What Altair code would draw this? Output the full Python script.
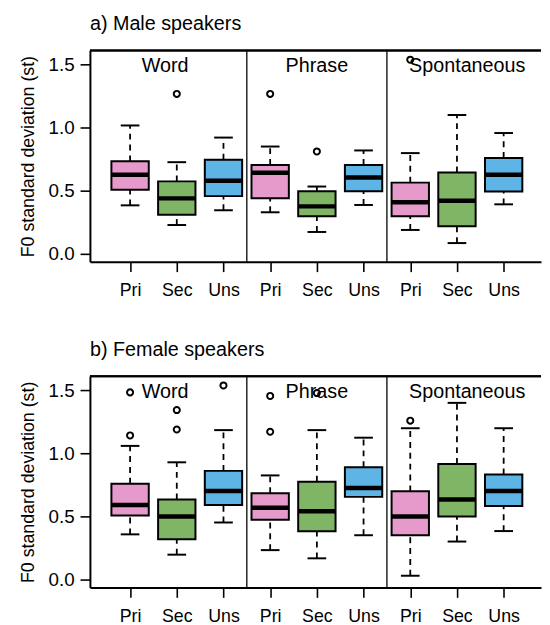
import json
import altair as alt
import pandas as pd

# ---------------- data ----------------
groups = ["Word", "Phrase", "Spontaneous"]
stress = ["Pri", "Sec", "Uns"]
colors = ["#E69ACB", "#80B566", "#5FB4E6"]

male_lo  = [0.385, 0.229, 0.346, 0.330, 0.174, 0.388, 0.190, 0.086, 0.393]
male_q1  = [0.508, 0.310, 0.458, 0.442, 0.299, 0.497, 0.299, 0.219, 0.495]
male_med = [0.627, 0.440, 0.580, 0.643, 0.377, 0.606, 0.409, 0.422, 0.627]
male_q3  = [0.734, 0.575, 0.747, 0.705, 0.497, 0.705, 0.565, 0.645, 0.760]
male_hi  = [1.018, 0.727, 0.922, 0.851, 0.534, 0.820, 0.799, 1.101, 0.958]
male_out_box = [2, 4, 5, 7]
male_out_val = [1.268, 1.268, 0.812, 1.539]

female_lo  = [0.359, 0.198, 0.453, 0.234, 0.169, 0.352, 0.031, 0.302, 0.385]
female_q1  = [0.508, 0.320, 0.591, 0.474, 0.383, 0.656, 0.352, 0.500, 0.583]
female_med = [0.591, 0.500, 0.703, 0.570, 0.542, 0.727, 0.500, 0.635, 0.703]
female_q3  = [0.760, 0.635, 0.862, 0.685, 0.776, 0.891, 0.700, 0.917, 0.833]
female_hi  = [1.060, 0.930, 1.185, 0.826, 1.185, 1.125, 1.200, 1.401, 1.200]
female_out_box = [1, 1, 2, 2, 3, 4, 4, 5, 7]
female_out_val = [1.484, 1.143, 1.344, 1.190, 1.539, 1.456, 1.172, 1.479, 1.260]

group_label_x = [1.75, 5.0, 8.22]
separators = [3.5, 6.5]
y_ticks = [0.0, 0.5, 1.0, 1.5]

# ---------------- layout ----------------
W, H = 457, 214
FONT = "Liberation Sans"
XDOM = [0.14, 9.80]
YDOM = [-0.062, 1.612]
BOXHALF = 0.4
CAPHALF = 0.2

xscale = alt.Scale(domain=XDOM, nice=False, zero=False)
yscale = alt.Scale(domain=YDOM, nice=False, zero=False)
cscale = alt.Scale(domain=stress, range=colors)

label_expr = json.dumps(stress) + "[(datum.value - 1) % 3]"

X_axis = alt.Axis(values=list(range(1, 10)), labelExpr=label_expr,
                  title=None, tickSize=10, tickWidth=1.6, tickColor="black",
                  domainColor="black", domainWidth=2, labelPadding=10,
                  labelFontSize=18, labelColor="black", labelFont=FONT,
                  grid=False)
Y_axis = alt.Axis(values=y_ticks, format=".1f", title="F0 standard deviation (st)",
                  tickSize=10, tickWidth=1.6, tickColor="black",
                  domainColor="black", domainWidth=2, labelPadding=6,
                  labelFontSize=19, labelColor="black", labelFont=FONT,
                  minExtent=44, maxExtent=44,
                  titleFontSize=18, titleFont=FONT, titleFontWeight="normal",
                  titleColor="black", titlePadding=9, grid=False)


def X(field):
    return alt.X(field, type="quantitative", scale=xscale, axis=X_axis)


def Y(field):
    return alt.Y(field, type="quantitative", scale=yscale, axis=Y_axis)


def make_panel(title, lo, q1, med, q3, hi, out_box, out_val):
    n = len(lo)
    df = pd.DataFrame({
        "pos": list(range(1, n + 1)),
        "stress": [stress[i % 3] for i in range(n)],
        "lo": lo, "q1": q1, "med": med, "q3": q3, "hi": hi,
    })
    out = pd.DataFrame({"pos": out_box, "val": out_val})
    lab = pd.DataFrame({"x": group_label_x, "text": groups})
    sep = pd.DataFrame({"x": separators})

    base = alt.Chart(df).transform_calculate(
        xl=f"datum.pos - {BOXHALF}", xr=f"datum.pos + {BOXHALF}",
        cl=f"datum.pos - {CAPHALF}", cr=f"datum.pos + {CAPHALF}",
    )

    whisk_up = base.mark_rule(color="black", strokeWidth=1.8, strokeDash=[6, 5]).encode(
        x=X("pos"), y=Y("q3"), y2="hi:Q",
    )
    whisk_dn = base.mark_rule(color="black", strokeWidth=1.8, strokeDash=[6, 5]).encode(
        x=X("pos"), y=Y("lo"), y2="q1:Q",
    )
    cap_hi = base.mark_rule(color="black", strokeWidth=2).encode(
        x=X("cl"), x2="cr:Q", y=Y("hi"),
    )
    cap_lo = base.mark_rule(color="black", strokeWidth=2).encode(
        x=X("cl"), x2="cr:Q", y=Y("lo"),
    )
    box = base.mark_rect(stroke="black", strokeWidth=2).encode(
        x=X("xl"), x2="xr:Q", y=Y("q1"), y2="q3:Q",
        fill=alt.Fill("stress:N", scale=cscale, legend=None),
    )
    median = base.mark_rule(color="black", strokeWidth=4.5).encode(
        x=X("xl"), x2="xr:Q", y=Y("med"),
    )
    outliers = alt.Chart(out).mark_point(shape="circle", size=38, filled=False,
                                         color="black", strokeWidth=2, opacity=1).encode(
        x=X("pos"), y=Y("val"),
    )
    labels = alt.Chart(lab).mark_text(font=FONT, fontSize=20, color="black",
                                      align="center", baseline="alphabetic").encode(
        x=X("x"), y=alt.value(22), text="text:N",
    )
    seps = alt.Chart(sep).mark_rule(color="black", strokeWidth=1.3).encode(
        x=X("x"), y=alt.value(0), y2=alt.value(H),
    )
    top = alt.Chart(sep).mark_rule(color="black", strokeWidth=2).encode(
        x=alt.value(0), x2=alt.value(W), y=alt.value(0),
    )

    return alt.layer(whisk_up, whisk_dn, cap_hi, cap_lo, box, median, outliers,
                     labels, seps, top).properties(
        width=W, height=H,
        title=alt.TitleParams(title, anchor="start", frame="group", fontSize=20,
                              fontWeight="normal", font=FONT, color="black",
                              baseline="alphabetic", offset=0),
    )


male = make_panel("a) Male speakers", male_lo, male_q1, male_med, male_q3, male_hi,
                  male_out_box, male_out_val)
female = make_panel("b) Female speakers", female_lo, female_q1, female_med, female_q3,
                    female_hi, female_out_box, female_out_val)

chart = alt.vconcat(male, female, spacing=41).properties(
    padding={"left": 12, "top": 2, "right": 0, "bottom": 0}
).configure_view(stroke=None)

chart.save("out.html", embed_options={"renderer": "svg", "actions": False})
